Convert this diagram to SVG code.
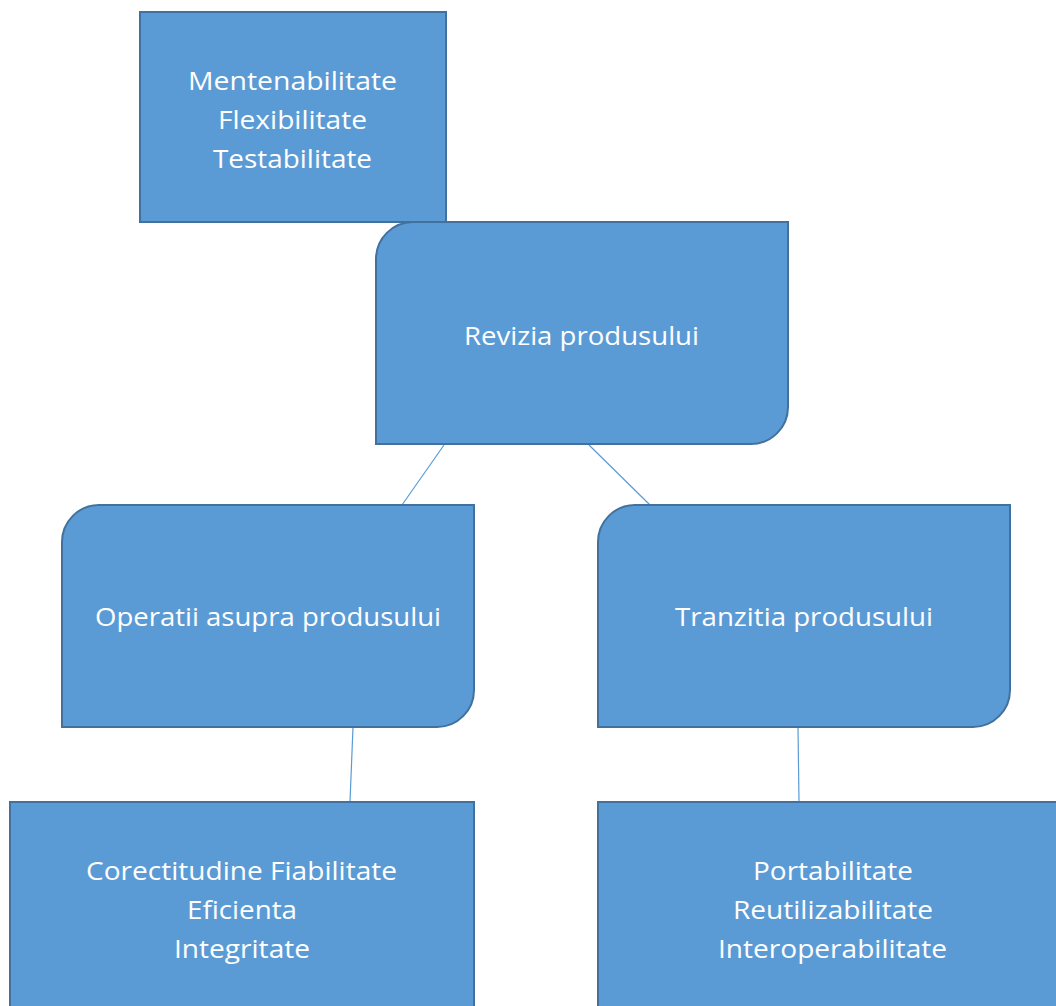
<svg xmlns="http://www.w3.org/2000/svg" width="1056" height="1006" viewBox="0 0 1056 1006">
<style>
.box{fill:#5B9BD5;stroke:#41719C;stroke-width:2}
.lbl{fill:#FFFFFF;font-family:"Open Sans","Noto Sans","Liberation Sans",sans-serif;font-size:26px;text-anchor:middle}
.conn{stroke:#5B9BD5;stroke-width:1.2;fill:none}
</style>
<rect width="1056" height="1006" fill="#FFFFFF"/>
<g id="connectors">
<line class="conn" x1="444" y1="445" x2="402" y2="505"/>
<line class="conn" x1="589" y1="445" x2="650" y2="505"/>
<line class="conn" x1="353" y1="727" x2="350" y2="802"/>
<line class="conn" x1="798" y1="727" x2="799" y2="802"/>
</g>
<g id="node-mentenabilitate">
<rect class="box" x="140" y="12" width="306" height="210"/>
<text class="lbl" x="292.5" y="90" textLength="209" lengthAdjust="spacingAndGlyphs">Mentenabilitate</text>
<text class="lbl" x="292.5" y="129" textLength="149" lengthAdjust="spacingAndGlyphs">Flexibilitate</text>
<text class="lbl" x="292.5" y="168" textLength="159" lengthAdjust="spacingAndGlyphs">Testabilitate</text>
</g>
<g id="node-revizia">
<path class="box" d="M413,222 H788 V407 A37,37 0 0 1 751,444 H376 V259 A37,37 0 0 1 413,222 Z"/>
<text class="lbl" x="581.5" y="345" textLength="235" lengthAdjust="spacingAndGlyphs">Revizia produsului</text>
</g>
<g id="node-operatii">
<path class="box" d="M99,505 H474 V690 A37,37 0 0 1 437,727 H62 V542 A37,37 0 0 1 99,505 Z"/>
<text class="lbl" x="268" y="626" textLength="346" lengthAdjust="spacingAndGlyphs">Operatii asupra produsului</text>
</g>
<g id="node-tranzitia">
<path class="box" d="M635,505 H1010 V690 A37,37 0 0 1 973,727 H598 V542 A37,37 0 0 1 635,505 Z"/>
<text class="lbl" x="804" y="626" textLength="258" lengthAdjust="spacingAndGlyphs">Tranzitia produsului</text>
</g>
<g id="node-corectitudine">
<rect class="box" x="10" y="802" width="464" height="215"/>
<text class="lbl" x="241.5" y="880" textLength="311" lengthAdjust="spacingAndGlyphs">Corectitudine Fiabilitate</text>
<text class="lbl" x="242" y="919" textLength="110" lengthAdjust="spacingAndGlyphs">Eficienta</text>
<text class="lbl" x="242" y="958" textLength="136" lengthAdjust="spacingAndGlyphs">Integritate</text>
</g>
<g id="node-portabilitate">
<rect class="box" x="598" y="802" width="470" height="215"/>
<text class="lbl" x="833" y="880" textLength="160" lengthAdjust="spacingAndGlyphs">Portabilitate</text>
<text class="lbl" x="833" y="919" textLength="200" lengthAdjust="spacingAndGlyphs">Reutilizabilitate</text>
<text class="lbl" x="832.5" y="958" textLength="229" lengthAdjust="spacingAndGlyphs">Interoperabilitate</text>
</g>
</svg>
